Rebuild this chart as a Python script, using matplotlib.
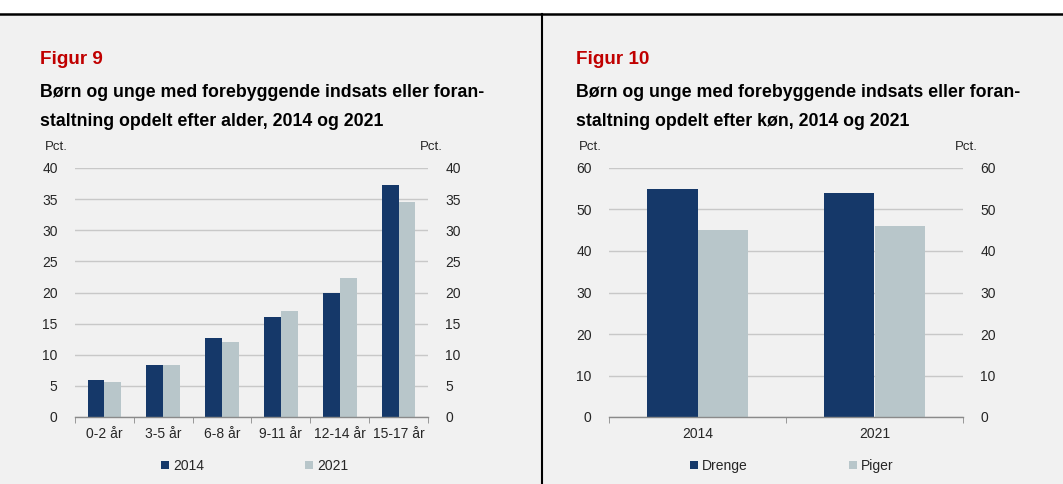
import numpy as np
import matplotlib
matplotlib.use('Agg')
import matplotlib.pyplot as plt
from matplotlib.patches import Rectangle
from matplotlib.lines import Line2D

plt.rcParams['font.family'] = ['Liberation Sans', 'DejaVu Sans']

# data
alder = ['0-2 år', '3-5 år', '6-8 år', '9-11 år', '12-14 år', '15-17 år']
alder_2014 = [6.0, 8.4, 12.7, 16.1, 20.0, 37.3]
alder_2021 = [5.7, 8.4, 12.0, 17.1, 22.4, 34.5]

aar = ['2014', '2021']
drenge = [55.0, 54.0]
piger = [45.0, 46.0]

dark = '#153869'
light = '#b8c6ca'
bg = '#f1f1f1'
grid_c = '#c8c8c8'
txt = '#262626'

W, H = 1063, 484
fig = plt.figure(figsize=(W / 100, H / 100), dpi=100)
fig.patch.set_facecolor('white')

def fx(x):
    return x / W

def fy(y):
    return 1 - y / H

# grey panel + frame lines
fig.patches.append(Rectangle((0, 0), 1, fy(15), transform=fig.transFigure,
                             facecolor=bg, edgecolor='none', zorder=-10))
fig.lines.append(Line2D([0, 1], [fy(14), fy(14)], transform=fig.transFigure,
                        color='black', lw=1.8))
fig.lines.append(Line2D([fx(542), fx(542)], [0, fy(14)], transform=fig.transFigure,
                        color='black', lw=1.5))


def make_panel(x0, x1, tx, figname, title2, cats, s1, s2, lab1, lab2, ymax,
               ystep, leg_x):
    ax = fig.add_axes([fx(x0), fy(417), fx(x1 - x0), (417 - 168) / H])
    ax.set_facecolor('none')
    n = len(cats)
    x = np.arange(n)
    w = 0.285
    ax.bar(x - w / 2, s1, w, color=dark, label=lab1, zorder=3)
    ax.bar(x + w / 2, s2, w, color=light, label=lab2, zorder=3)
    ax.set_xlim(-0.5, n - 0.5)
    ax.set_ylim(0, ymax)
    ax.set_yticks(np.arange(0, ymax + 1, ystep))
    ax.yaxis.grid(True, color=grid_c, lw=1.0, zorder=0)
    ax.set_axisbelow(True)
    for s in ['top', 'left', 'right']:
        ax.spines[s].set_visible(False)
    ax.spines['bottom'].set_color('#8a8a8a')
    ax.spines['bottom'].set_linewidth(1.0)
    ax.spines['bottom'].set_zorder(4)
    ax.set_xticks(x)
    ax.set_xticklabels(cats)
    ax.set_xticks(np.arange(-0.5, n, 1.0), minor=True)
    ax.tick_params(axis='x', which='major', length=0, pad=7, labelsize=10,
                   labelcolor=txt)
    ax.tick_params(axis='x', which='minor', length=4, color='#8a8a8a',
                   direction='out')
    ax.tick_params(axis='y', left=False, right=False, labelleft=True,
                   labelright=True, pad=9, labelsize=10, labelcolor=txt)

    fig.text(fx(x0 - 30), fy(150), 'Pct.', fontsize=9.5, color=txt, va='baseline')
    fig.text(fx(x1 - 8), fy(150), 'Pct.', fontsize=9.5, color=txt, va='baseline')

    fig.text(fx(tx), fy(64), figname, fontsize=13.6, fontweight='bold',
             color='#c00000', va='baseline')
    fig.text(fx(tx), fy(97), 'Børn og unge med forebyggende indsats eller foran-',
             fontsize=12.75, fontweight='bold', color='black', va='baseline')
    fig.text(fx(tx), fy(126), title2,
             fontsize=12.75, fontweight='bold', color='black', va='baseline')

    ax.legend(loc='center left', bbox_to_anchor=(fx(leg_x), fy(466)),
              bbox_transform=fig.transFigure, ncol=2, frameon=False,
              fontsize=10, handlelength=0.55, handleheight=0.55,
              handletextpad=0.3, columnspacing=7.3, borderpad=0,
              borderaxespad=0, labelcolor=txt)
    return ax


make_panel(75, 428, 40, 'Figur 9', 'staltning opdelt efter alder, 2014 og 2021',
           alder, alder_2014, alder_2021, '2014', '2021', 40, 5, 161)
make_panel(609, 963, 576, 'Figur 10', 'staltning opdelt efter køn, 2014 og 2021',
           aar, drenge, piger, 'Drenge', 'Piger', 60, 10, 690)

fig.savefig('out.png', dpi=100, facecolor=fig.get_facecolor())
